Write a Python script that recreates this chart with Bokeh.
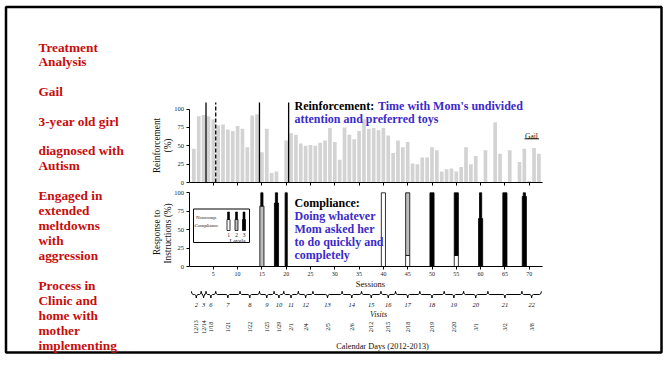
import math
from bokeh.plotting import figure
from bokeh.models import Range1d, LinearAxis, FixedTicker
from bokeh.core.properties import value
from bokeh.embed import file_html
from bokeh.resources import INLINE

# ---------------- data ----------------
sessions = list(range(1, 73))
reinforcement = [46, 90, 92, 90, 86, 78, 79, 72, 70, 77, 73, 48, 91, 93, 41, 73, 13, 15, 0, 57,
                 67, 65, 53, 50, 51, 50, 54, 57, 74, 55, 31, 75, 65, 59, 70, 86, 73, 74, 71, 74,
                 64, 40, 57, 48, 55, 26, 25, 34, 34, 48, 44, 15, 18, 19, 15, 21, 48, 25, 36, 0,
                 44, 0, 82, 39, 0, 44, 0, 28, 46, 2, 47, 39]

phase_solid = [3.5, 14.5, 20.5]
phase_dashed = [5.5]

comp_sessions = [15, 18, 20, 40, 45, 50, 55, 60, 65, 69]
comp_level1 = [0, 0, 0, 100, 15, 0, 15, 0, 0, 0]      # white
comp_level2 = [82, 0, 0, 0, 85, 0, 0, 0, 0, 0]        # gray
comp_level3 = [0, 86, 0, 0, 0, 100, 85, 65, 100, 95]  # black
noncomp = [18, 14, 100, 0, 0, 0, 0, 35, 0, 5]         # narrow black

session_ticks = [5, 10, 15, 20, 25, 30, 35, 40, 45, 50, 55, 60, 65, 70]
pct_ticks = [0, 25, 50, 75, 100]

visit_labels = ["2", "3", "6", "7", "8", "9", "10", "11", "12", "13", "14",
                "15", "16", "17", "18", "19", "20", "21", "22"]
visit_first = [1, 3, 4, 6, 11, 15, 18, 20, 23, 26, 32, 36, 40, 43, 48, 53, 57, 62, 69]
visit_last = [2, 3, 5, 10, 14, 17, 19, 22, 25, 31, 35, 39, 42, 47, 52, 56, 61, 68, 72]
visit_dates = ["12/13", "12/14", "1/18", "1/21", "1/22", "1/25", "1/29", "2/1", "2/4",
               "2/5", "2/6", "2/12", "2/15", "2/18", "2/19", "2/20", "3/1", "3/2", "3/8"]

left_lines = [("Treatment", 46.5), ("Analysis", 60.5), ("Gail", 91), ("3-year old girl", 120.5),
              ("diagnosed with", 150), ("Autism", 165), ("Engaged in", 195), ("extended", 210),
              ("meltdowns", 225), ("with", 240), ("aggression", 255), ("Process in", 285),
              ("Clinic and", 300), ("home with", 315), ("mother", 330), ("implementing", 345)]

# ---------------- layout constants ----------------
W, H = 665, 380
X0, PXS = 188.5, 4.86          # pixel x of session 0, px per session
R0, RS = 182.0, 0.735          # reinforcement panel: pixel y of 0 %, px per %
C0, CS = 266.0, 0.737          # compliance panel
SERIF = "Liberation Serif"
RED = "#C80C0C"
BLUE = "#3B2BC8"

p = figure(width=W, height=H, output_backend="svg", toolbar_location=None,
           x_range=Range1d(0, W), y_range=Range1d(H, 0),
           x_axis_location=None, y_axis_location=None,
           min_border=0, min_border_left=0, min_border_right=0,
           min_border_top=0, min_border_bottom=0, outline_line_color=None)
p.grid.visible = False
p.background_fill_color = "white"
p.border_fill_color = "white"
p.extra_x_ranges = {"sess": Range1d(-X0 / PXS, (W - X0) / PXS)}
p.extra_y_ranges = {"reinf": Range1d((R0 - H) / RS, R0 / RS),
                    "comp": Range1d((C0 - H) / CS, C0 / CS)}

# slide border
p.quad(left=5.5, right=661, top=6.5, bottom=352, fill_color=None,
       line_color="black", line_width=2.5)

# left red text
p.text(x=[38] * len(left_lines), y=[l[1] for l in left_lines], text=[l[0] for l in left_lines],
       text_font=value(SERIF), text_font_style="bold", text_font_size="13.3px",
       text_color=RED, text_baseline="alphabetic", text_align="left")

# ---------------- reinforcement panel ----------------
p.vbar(x=sessions, top=reinforcement, bottom=0, width=0.76, fill_color="#D3D3D3",
       line_color=None, x_range_name="sess", y_range_name="reinf")
p.segment(x0=phase_solid, y0=0, x1=phase_solid, y1=109, line_color="black", line_width=1.3,
          x_range_name="sess", y_range_name="reinf")
p.segment(x0=phase_dashed, y0=0, x1=phase_dashed, y1=109, line_color="black", line_width=1.3,
          line_dash="4 2", x_range_name="sess", y_range_name="reinf")


def style_axis(ax, size):
    ax.axis_line_color = "black"
    ax.axis_line_width = 1
    ax.major_tick_line_color = "black"
    ax.major_tick_in = 0
    ax.major_tick_out = 3
    ax.minor_tick_line_color = None
    ax.major_label_text_font = SERIF
    ax.major_label_text_font_size = size
    ax.major_label_text_color = "#222222"
    ax.major_label_standoff = 2


ry = LinearAxis(x_range_name="sess", y_range_name="reinf", fixed_location=0,
                bounds=(0, 100), ticker=FixedTicker(ticks=pct_ticks))
style_axis(ry, "6.5px")
p.add_layout(ry, "left")
rx = LinearAxis(x_range_name="sess", y_range_name="reinf", fixed_location=0,
                bounds=(0, 72.7), ticker=FixedTicker(ticks=session_ticks),
                major_label_overrides={t: "" for t in session_ticks})
style_axis(rx, "6px")
p.add_layout(rx, "below")

# ---------------- compliance panel ----------------
fills = ["white", "#BDBDBD", "black"]
base = [0] * len(comp_sessions)
for level, col in zip([comp_level1, comp_level2, comp_level3], fills):
    xs = [s for s, h in zip(comp_sessions, level) if h > 0]
    bs = [b for b, h in zip(base, level) if h > 0]
    ts = [b + h for b, h in zip(base, level) if h > 0]
    p.vbar(x=xs, bottom=bs, top=ts, width=0.85, fill_color=col, line_color="black",
           line_width=0.8, x_range_name="sess", y_range_name="comp")
    base = [b + h for b, h in zip(base, level)]
xs = [s for s, h in zip(comp_sessions, noncomp) if h > 0]
bs = [b for b, h in zip(base, noncomp) if h > 0]
ts = [b + h for b, h in zip(base, noncomp) if h > 0]
p.vbar(x=xs, bottom=bs, top=ts, width=0.45, fill_color="black", line_color="black",
       line_width=0.8, x_range_name="sess", y_range_name="comp")

cy = LinearAxis(x_range_name="sess", y_range_name="comp", fixed_location=0,
                bounds=(0, 100), ticker=FixedTicker(ticks=pct_ticks))
style_axis(cy, "6.5px")
p.add_layout(cy, "left")
cx = LinearAxis(x_range_name="sess", y_range_name="comp", fixed_location=0,
                bounds=(0, 72.7), ticker=FixedTicker(ticks=session_ticks))
style_axis(cx, "6px")
p.add_layout(cx, "below")

# legend box in compliance panel
p.quad(left=193, right=249, top=208.5, bottom=242, fill_color=None, line_color="black", line_width=1)
icon_x = [228, 236, 243.5]
p.quad(left=[x - 1 for x in icon_x], right=[x + 1 for x in icon_x], top=211.5, bottom=219,
       fill_color="black", line_color="black", line_width=0.6)
p.quad(left=[x - 1.5 for x in icon_x], right=[x + 1.5 for x in icon_x], top=219, bottom=230,
       fill_color=fills, line_color="black", line_width=0.8)
p.text(x=icon_x, y=[234.5] * 3, text=["1", "2", "3"], text_font=value(SERIF), text_font_size="5.5px",
       text_align="center", text_baseline="middle", text_color="#222222")
p.text(x=[237], y=[240], text=["Levels"], text_font=value(SERIF), text_font_size="6px",
       text_align="center", text_baseline="middle", text_color="#222222")
p.text(x=[206, 206], y=[216.5, 224.5], text=["Noncomp.", "Compliance"], text_font=value(SERIF),
       text_font_size="5px", text_align="center", text_baseline="middle", text_color="#222222")

# axis titles
p.text(x=[156, 167], y=[145, 145], text=["Reinforcement", "(%)"], angle=math.pi / 2,
       text_font=value(SERIF), text_font_size="9.3px", text_align="center",
       text_baseline="middle", text_color="#111111")
p.text(x=[156, 167.5], y=[232, 233], text=["Response to", "Instructions (%)"], angle=math.pi / 2,
       text_font=value(SERIF), text_font_size="9.3px", text_align="center",
       text_baseline="middle", text_color="#111111")

# panel titles
p.text(x=[294], y=[105.5], text=["Reinforcement:"], text_font=value(SERIF), text_font_style="bold",
       text_font_size="12px", text_color="black", text_baseline="alphabetic")
p.text(x=[377.5, 294], y=[105.5, 118], text=["Time with Mom's undivided", "attention and preferred toys"],
       text_font=value(SERIF), text_font_style="bold", text_font_size="12px", text_color=BLUE,
       text_baseline="alphabetic")
p.text(x=[294], y=[202.5], text=["Compliance:"], text_font=value(SERIF), text_font_style="bold",
       text_font_size="12px", text_color="black", text_baseline="alphabetic")
p.text(x=[294] * 4, y=[215.5, 228.5, 241.5, 254],
       text=["Doing whatever", "Mom asked her", "to do quickly and", "completely"],
       text_font=value(SERIF), text_font_style="bold", text_font_size="12px", text_color=BLUE,
       text_baseline="alphabetic")

# Gail label
p.text(x=[531], y=[135.5], text=["Gail"], text_font=value(SERIF), text_font_size="7.5px",
       text_align="center", text_baseline="alphabetic", text_color="#111111")
p.segment(x0=[524], y0=[138.3], x1=[538.5], y1=[138.3], line_color="black", line_width=0.9)

# Sessions / visits / dates
p.text(x=[370], y=[283], text=["Sessions"], text_font=value(SERIF), text_font_size="8.5px",
       text_align="center", text_baseline="middle", text_color="#111111")

bx, by, mids = [], [], []
for a, b in zip(visit_first, visit_last):
    lft, rgt = a - 0.5, b + 0.5
    m = (lft + rgt) / 2
    mids.append(m)
    bx.append([lft, lft + 0.08, lft + 0.35, m - 0.35, m - 0.08, m, m + 0.08, m + 0.35,
               rgt - 0.35, rgt - 0.08, rgt])
    by.append([290.8, 293.0, 294, 294, 295.0, 297.5, 295.0, 294, 294, 293.0, 290.8])
p.multi_line(xs=bx, ys=by, line_color="black", line_width=1, x_range_name="sess")
p.text(x=mids, y=[304.5] * len(mids), text=visit_labels, text_font=value(SERIF),
       text_font_style="italic", text_font_size="6.5px", text_align="center",
       text_baseline="middle", text_color="#111111", x_range_name="sess")
p.text(x=[378], y=[313.5], text=["Visits"], text_font=value(SERIF), text_font_style="italic",
       text_font_size="8px", text_align="center", text_baseline="middle", text_color="#111111")
p.text(x=mids, y=[326.5] * len(mids), text=visit_dates, angle=math.pi / 2, text_font=value(SERIF),
       text_font_size="6px", text_align="center", text_baseline="middle", text_color="#111111",
       x_range_name="sess")
p.text(x=[382], y=[345.5], text=["Calendar Days (2012-2013)"], text_font=value(SERIF),
       text_font_size="8.3px", text_align="center", text_baseline="middle", text_color="#111111")

open("out.html", "w").write(file_html(p, INLINE))
